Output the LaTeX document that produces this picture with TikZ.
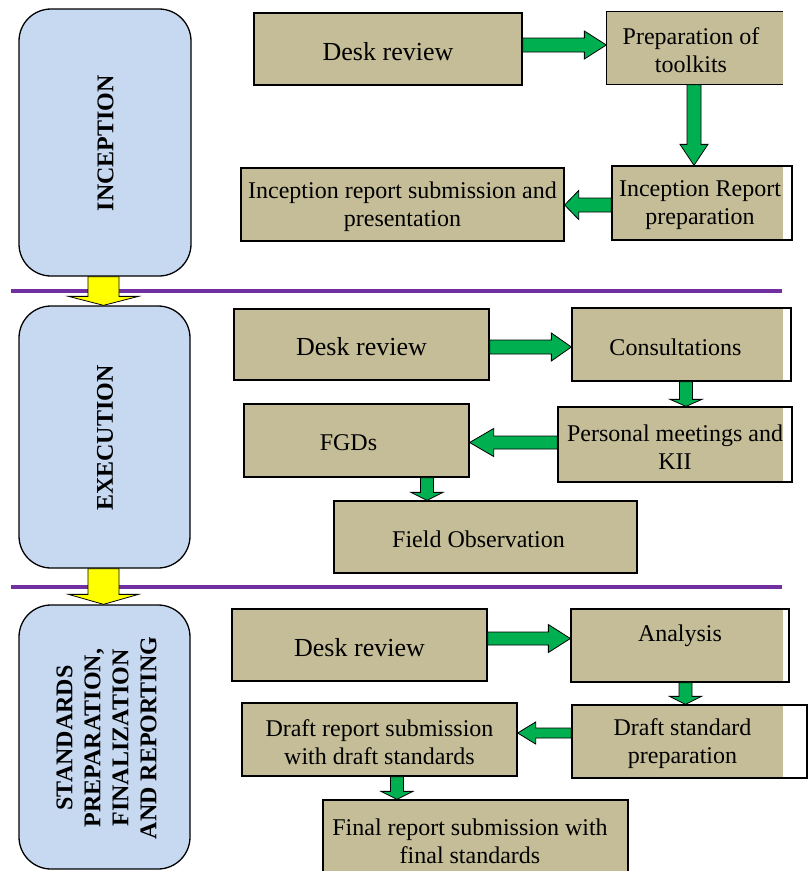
\documentclass[tikz,border=0pt]{standalone}
\usepackage{fontspec}
\setmainfont{Liberation Serif}
\usetikzlibrary{calc,backgrounds}
\definecolor{tanfill}{RGB}{196,189,151}
\definecolor{phasefill}{RGB}{198,217,241}
\definecolor{arrgreen}{RGB}{0,176,80}
\definecolor{linepurple}{RGB}{112,48,160}
\definecolor{arryellow}{RGB}{255,255,0}
\tikzset{
  stepbox/.style={draw=black, line width=1.3pt, fill=tanfill, inner sep=0pt},
  openbox/.style={stepbox, fill=none},
  bare/.style={stepbox, draw=none, fill=none},
  boxtext/.style={inner sep=0pt, align=center, font=\fontsize{24}{28}\selectfont},
  big/.style={font=\fontsize{26}{30}\selectfont},
  phase/.style={draw=black, line width=1.3pt, fill=phasefill, rounded corners=32pt, inner sep=0pt},
  phaselabel/.style={rotate=90, inner sep=0pt, align=center, font=\fontsize{24}{28}\selectfont\bfseries},
  garrow/.style={fill=arrgreen, draw=black, line width=0.8pt, line join=miter},
  yarrow/.style={fill=arryellow, draw=black, line width=0.8pt, line join=miter},
  divider/.style={draw=linepurple, line width=4pt},
}
% box shape: style, x1, y1, x2, y2, name
\newcommand\mkbox[6]{\node[#1, minimum width={(#4-#2)*1pt}, minimum height={(#5-#3)*1pt}] (#6) at ({(#2+#4)/2},{(#3+#5)/2}) {};}
% text of a box, a little below its centre: extra style, name, text
\newcommand\boxtxt[3]{\node[boxtext,#1] (#2t) at ([yshift=-2.5pt]#2.center) {#3};}
% fill of a clipped box up to x = 783
\newcommand\clipfill[1]{\begin{scope}[on background layer]\fill[tanfill] (#1.south west) rectangle (#1.north -| xr);\end{scope}}
% green block arrows: from, to, centre, shaft half width, head half width, head length
\newcommand\ArrR[6]{\draw[garrow] let \p1=(#1.east),\p2=(#2.west),\p3=(0,#3) in
  (\x1,{\y3+#4pt}) -- ({\x2-#6pt},{\y3+#4pt}) -- ({\x2-#6pt},{\y3+#5pt}) -- (\x2,\y3)
  -- ({\x2-#6pt},{\y3-#5pt}) -- ({\x2-#6pt},{\y3-#4pt}) -- (\x1,{\y3-#4pt}) -- cycle;}
\newcommand\ArrL[6]{\draw[garrow] let \p1=(#1.west),\p2=(#2.east),\p3=(0,#3) in
  (\x1,{\y3+#4pt}) -- ({\x2+#6pt},{\y3+#4pt}) -- ({\x2+#6pt},{\y3+#5pt}) -- (\x2,\y3)
  -- ({\x2+#6pt},{\y3-#5pt}) -- ({\x2+#6pt},{\y3-#4pt}) -- (\x1,{\y3-#4pt}) -- cycle;}
\newcommand\ArrD[7][garrow]{\draw[#1] let \p1=(#2.south),\p2=(#3.north),\p3=(#4,0) in
  ({\x3-#5pt},\y1) -- ({\x3-#5pt},{\y2+#7pt}) -- ({\x3-#6pt},{\y2+#7pt}) -- (\x3,\y2)
  -- ({\x3+#6pt},{\y2+#7pt}) -- ({\x3+#5pt},{\y2+#7pt}) -- ({\x3+#5pt},\y1) -- cycle;}
\begin{document}
\begin{tikzpicture}[x=1pt,y=-1pt]
\useasboundingbox (0,0) rectangle (810,871);
\clip (0,0) rectangle (810,871);
\coordinate (xr) at (783,0);

% phase boxes
\mkbox{phase}{19}{9}{191}{276}{ph1}
\mkbox{phase}{19}{306}{190}{568}{ph2}
\mkbox{phase}{19}{605}{190}{869}{ph3}
\node[phaselabel] (lab1) at (105.5,143) {INCEPTION};
\node[phaselabel] (lab2) at (105,438) {EXECUTION};
\node[phaselabel] (lab3) at (106.5,738) {STANDARDS\\PREPARATION,\\FINALIZATION\\AND REPORTING};

% dividers
\draw[divider] (11,291) -- (782,291);
\draw[divider] (11,587) -- (782,587);

% inception
\mkbox{stepbox}{254}{13}{522}{85}{dr1}
\boxtxt{big}{dr1}{Desk review}
\mkbox{bare}{607}{12}{775}{84}{prep}
\clipfill{prep}
\draw[line width=1.3pt] (prep.north -| xr) -- (prep.north west) -- (prep.south west) -- (prep.south -| xr);
\boxtxt{}{prep}{Preparation of\\toolkits}
\mkbox{openbox}{612}{166}{792}{240}{irp}
\clipfill{irp}
\boxtxt{xshift=-2pt}{irp}{Inception Report\\preparation}
\mkbox{stepbox}{241}{168}{564}{241}{irs}
\boxtxt{}{irs}{Inception report submission and\\presentation}

% execution
\mkbox{stepbox}{234}{309}{489}{380}{dr2}
\boxtxt{big}{dr2}{Desk review}
\mkbox{openbox}{572}{308}{791}{381}{cons}
\clipfill{cons}
\boxtxt{xshift=-6pt}{cons}{Consultations}
\mkbox{openbox}{558}{407}{792}{482}{pm}
\clipfill{pm}
\boxtxt{}{pm}{Personal meetings and\\KII}
\mkbox{stepbox}{244}{404}{469}{477}{fgd}
\boxtxt{xshift=-8pt}{fgd}{FGDs}
\mkbox{stepbox}{334}{501}{637}{573}{fo}
\boxtxt{xshift=-7pt}{fo}{Field Observation}

% standards
\mkbox{stepbox}{232}{609}{487}{681}{dr3}
\boxtxt{big}{dr3}{Desk review}
\mkbox{openbox}{571}{609}{789}{682}{ana}
\clipfill{ana}
\boxtxt{yshift=12pt}{ana}{Analysis}
\mkbox{openbox}{572}{705}{807}{778}{dsp}
\clipfill{dsp}
\boxtxt{xshift=-7pt}{dsp}{Draft standard\\preparation}
\mkbox{stepbox}{242}{703}{517}{776}{drs}
\boxtxt{}{drs}{Draft report submission\\with draft standards}
\mkbox{stepbox}{323}{800}{628}{900}{frs}
\node[boxtext] (frst) at (470,841.5) {Final report submission with\\final standards};

% green arrows
\ArrR{dr1}{prep}{45}{7}{14}{22}
\ArrD{prep}{irp}{694}{7}{14}{21}
\ArrL{irp}{irs}{205}{7}{14.5}{14}
\ArrR{dr2}{cons}{347}{7}{14}{20}
\ArrD{cons}{pm}{686}{6.5}{16}{7}
\ArrL{pm}{fgd}{442.5}{6.5}{14}{24}
\ArrD{fgd}{fo}{427}{6.5}{16}{8}
\ArrR{dr3}{ana}{638.5}{6.5}{14}{22}
\ArrD{ana}{dsp}{685.5}{6.5}{16}{8}
\ArrL{dsp}{drs}{733}{5}{11}{18}
\ArrD{drs}{frs}{397}{6.5}{16}{8}

% yellow arrows between phases
\ArrD[yarrow]{ph1}{ph2}{103.5}{15.5}{35}{9}
\ArrD[yarrow]{ph2}{ph3}{103.5}{15.5}{35}{10}
\end{tikzpicture}
\end{document}
